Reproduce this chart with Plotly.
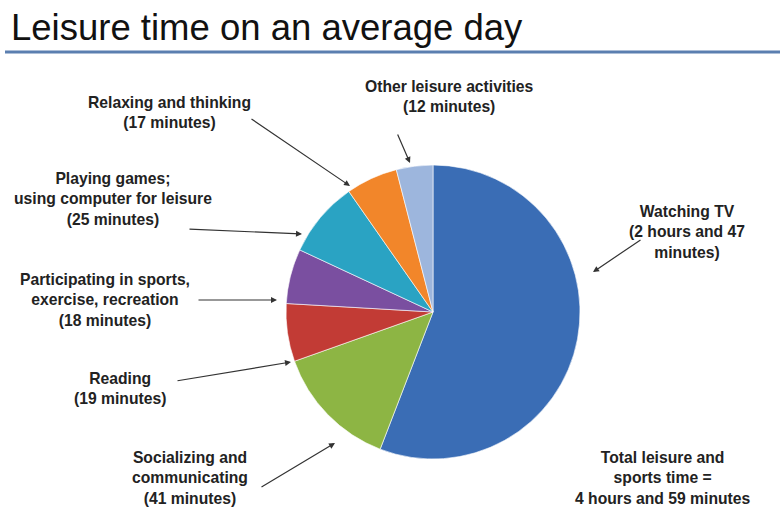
import plotly.graph_objects as go

categories = ["Watching TV", "Socializing and communicating", "Reading",
              "Participating in sports, exercise, recreation",
              "Playing games; using computer for leisure",
              "Relaxing and thinking", "Other leisure activities"]
minutes = [167, 41, 19, 18, 25, 17, 12]
colors = ["#3a6db5", "#8db544", "#c23b35", "#7a4fa0", "#2aa3c3", "#f2862a", "#9db6dd"]

W, H = 780, 511

def px(x):
    return x / W

def py(y):
    return 1 - y / H

cx, cy, r = 433, 312, 147

fig = go.Figure(go.Pie(
    labels=categories, values=minutes, sort=False, direction="clockwise",
    rotation=0, textinfo="none", hoverinfo="label+value",
    marker=dict(colors=colors, line=dict(color="rgba(255,255,255,0.6)", width=1)),
    domain=dict(x=[px(cx - r), px(cx + r)], y=[py(cy + r), py(cy - r)]),
    showlegend=False,
))

label_font = dict(family="Liberation Sans, Arial, sans-serif", size=15.7, color="#222222")

labels = [
    ("<b>Relaxing and thinking<br>(17 minutes)</b>", 169, 113),
    ("<b>Playing games;<br>using computer for leisure<br>(25 minutes)</b>", 113, 199),
    ("<b>Participating in sports,<br>exercise, recreation<br>(18 minutes)</b>", 105, 300),
    ("<b>Reading<br>(19 minutes)</b>", 120, 388),
    ("<b>Socializing and<br>communicating<br>(41 minutes)</b>", 190, 478),
    ("<b>Other leisure activities<br>(12 minutes)</b>", 450, 97),
    ("<b>Watching TV<br>(2 hours and 47<br>minutes)</b>", 687, 232),
    ("<b>Total leisure and<br>sports time =<br>4 hours and 59 minutes</b>", 662, 478),
]

annotations = []
for text, x, y in labels:
    annotations.append(dict(text=text, x=px(x), y=py(y), xref="paper", yref="paper",
                            showarrow=False, font=label_font, align="center",
                            xanchor="center", yanchor="middle"))

# arrows: (tail_x, tail_y, head_x, head_y)
arrows = [
    (250, 118, 350, 186),
    (188, 229, 302, 234),
    (197, 300, 277, 300),
    (176, 381, 291, 362),
    (260, 488, 335, 443),
    (397, 133, 410, 163),
    (642, 239, 593, 272),
]
for tx, ty, hx, hy in arrows:
    annotations.append(dict(x=px(hx), y=py(hy), xref="paper", yref="paper",
                            ax=tx - hx, ay=ty - hy, axref="pixel", ayref="pixel",
                            text="", showarrow=True, arrowhead=2, arrowsize=1,
                            arrowwidth=1.2, arrowcolor="#333333"))

annotations.append(dict(text="Leisure time on an average day", x=px(9), y=py(27),
                        xref="paper", yref="paper", showarrow=False,
                        xanchor="left", yanchor="middle",
                        font=dict(family="Liberation Sans, Arial, sans-serif",
                                  size=36.5, color="#111111")))

fig.update_layout(
    width=W, height=H, margin=dict(l=0, r=0, t=0, b=0),
    paper_bgcolor="white", plot_bgcolor="white",
    annotations=annotations,
    shapes=[dict(type="line", xref="paper", yref="paper", x0=px(5), x1=1,
                 y0=py(52), y1=py(52), line=dict(color="#5b7fb0", width=3))],
)

fig.write_html("out.html", config={"displayModeBar": False},
               post_script="document.body.style.margin='0';")
